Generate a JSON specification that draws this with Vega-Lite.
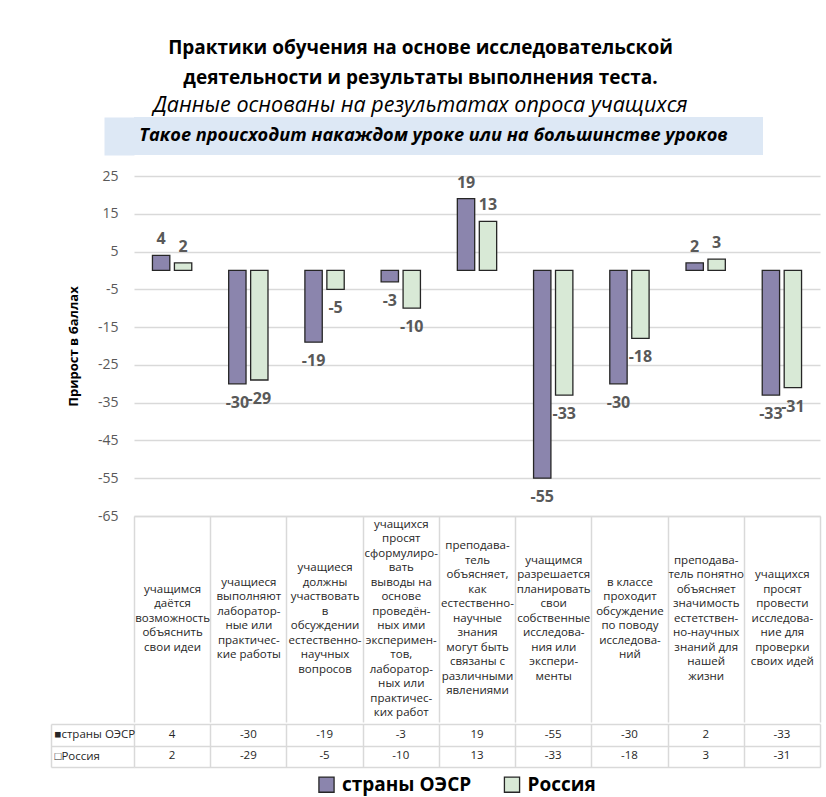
{
  "$schema": "https://vega.github.io/schema/vega-lite/v6.json",
  "background": "white",
  "padding": {"left": 50, "top": 38, "right": 5, "bottom": 2},
  "config": {"font": "Open Sans", "view": {"stroke": null}},
  "title": {
    "text": ["Практики обучения на основе исследовательской", "деятельности и результаты выполнения теста."],
    "subtitle": "Данные основаны на результатах опроса учащихся",
    "font": "Open Sans", "fontSize": 19, "fontWeight": "bold", "color": "#000000", "lineHeight": 30,
    "subtitleFont": "Open Sans", "subtitleFontSize": 21.5, "subtitleFontStyle": "italic", "subtitleColor": "#000000",
    "subtitlePadding": 7, "anchor": "middle", "offset": 1, "dx": -15
  },
  "datasets": {
    "d": [
      {"cat": "учащимся|даётся|возможность|объяснить|свои идеи", "series": "страны ОЭСР", "value": 4},
      {"cat": "учащиеся|выполняют|лаборатор-|ные или|практичес-|кие работы", "series": "страны ОЭСР", "value": -30},
      {"cat": "учащиеся|должны|участвовать|в|обсуждении|естественно-|научных|вопросов", "series": "страны ОЭСР", "value": -19},
      {"cat": "учащихся|просят|сформулиро-|вать|выводы на|основе|проведён-|ных ими|эксперимен-|тов,|лаборатор-|ных или|практичес-|ких работ", "series": "страны ОЭСР", "value": -3},
      {"cat": "преподава-|тель|объясняет,|как|естественно-|научные|знания|могут быть|связаны с|различными|явлениями", "series": "страны ОЭСР", "value": 19},
      {"cat": "учащимся|разрешается|планировать|свои|собственные|исследова-|ния или|экспери-|менты", "series": "страны ОЭСР", "value": -55},
      {"cat": "в классе|проходит|обсуждение|по поводу|исследова-|ний", "series": "страны ОЭСР", "value": -30},
      {"cat": "преподава-|тель понятно|объясняет|значимость|естетствен-|но-научных|знаний для|нашей|жизни", "series": "страны ОЭСР", "value": 2},
      {"cat": "учащихся|просят|провести|исследова-|ние для|проверки|своих идей", "series": "страны ОЭСР", "value": -33},
      {"cat": "учащимся|даётся|возможность|объяснить|свои идеи", "series": "Россия", "value": 2},
      {"cat": "учащиеся|выполняют|лаборатор-|ные или|практичес-|кие работы", "series": "Россия", "value": -29},
      {"cat": "учащиеся|должны|участвовать|в|обсуждении|естественно-|научных|вопросов", "series": "Россия", "value": -5},
      {"cat": "учащихся|просят|сформулиро-|вать|выводы на|основе|проведён-|ных ими|эксперимен-|тов,|лаборатор-|ных или|практичес-|ких работ", "series": "Россия", "value": -10},
      {"cat": "преподава-|тель|объясняет,|как|естественно-|научные|знания|могут быть|связаны с|различными|явлениями", "series": "Россия", "value": 13},
      {"cat": "учащимся|разрешается|планировать|свои|собственные|исследова-|ния или|экспери-|менты", "series": "Россия", "value": -33},
      {"cat": "в классе|проходит|обсуждение|по поводу|исследова-|ний", "series": "Россия", "value": -18},
      {"cat": "преподава-|тель понятно|объясняет|значимость|естетствен-|но-научных|знаний для|нашей|жизни", "series": "Россия", "value": 3},
      {"cat": "учащихся|просят|провести|исследова-|ние для|проверки|своих идей", "series": "Россия", "value": -31}
    ],
    "banner": [{"t": "Такое происходит накаждом уроке или на большинстве уроков", "k": "a"}]
  },
  "bounds": "full",
  "spacing": 14,
  "vconcat": [
    {
      "width": 629, "height": 38,
      "data": {"name": "banner"},
      "view": {"fill": "#dde8f5", "stroke": null},
      "mark": {"type": "text", "font": "Open Sans", "fontSize": 18.2, "fontWeight": "bold", "fontStyle": "italic", "color": "#000000", "dx": -15},
      "encoding": {
        "text": {"field": "t"},
        "y": {"field": "k", "type": "nominal", "axis": {"labels": false, "ticks": false, "title": null, "grid": false,
          "domain": true, "domainColor": "#dde8f5", "domainWidth": 30, "domainCap": "butt", "offset": 15}}
      }
    },
    {
      "spacing": 0,
      "vconcat": [
        {
          "width": 686, "height": 340,
          "data": {"name": "d"},
          "encoding": {
            "x": {"field": "cat", "type": "nominal", "sort": null,
              "scale": {"paddingInner": 0, "paddingOuter": 0},
              "axis": {"orient": "bottom", "title": null, "domain": true, "domainColor": "#d9d9d9", "domainWidth": 1.5,
                "ticks": true, "tickBand": "extent", "tickSize": 206, "tickColor": "#d9d9d9", "tickWidth": 1.5,
                "labelExpr": "split(join(split(pad('', 14 - length(split(datum.label, '|')), '~'), '~'), '\u200b|') + join(split(datum.label, '|'), '|\u200b|'), '|')",
                "labelFontSize": 11.5, "labelLineHeight": 7.25,
                "labelBaseline": "top", "labelPadding": -204, "labelColor": "#262626", "labelAngle": 0,
                "labelOverlap": false, "labelBound": false, "labelLimit": 200, "grid": false}
            },
            "xOffset": {"field": "series", "sort": ["страны ОЭСР", "Россия"], "scale": {"paddingInner": 0.21, "paddingOuter": 0.84}}
          },
          "layer": [
            {
              "mark": {"type": "bar", "stroke": "#262626", "strokeWidth": 1.3},
              "encoding": {
                "y": {"field": "value", "type": "quantitative", "scale": {"domain": [-65, 25], "nice": false, "zero": false},
                  "axis": {"values": [25, 15, 5, -5, -15, -25, -35, -45, -55, -65], "tickCount": 12, "labelExpr": "'' + datum.value",
                    "labelOverlap": false, "title": "Прирост в баллах",
                    "titleFontSize": 13, "titleFontWeight": "bold", "titleColor": "#000000", "titlePadding": 17,
                    "labelFontSize": 14, "labelColor": "#595959", "labelPadding": 16, "domain": false, "ticks": false,
                    "grid": true, "gridColor": "#d9d9d9", "gridWidth": 1.3}},
                "color": {"field": "series", "type": "nominal", "sort": ["страны ОЭСР", "Россия"],
                  "scale": {"domain": ["страны ОЭСР", "Россия"], "range": ["#8b85ad", "#d8e9d6"]},
                  "legend": {"orient": "none", "legendX": 183, "legendY": 658, "direction": "horizontal", "title": null, "symbolType": "square",
                    "symbolSize": 230, "symbolStrokeColor": "#262626", "symbolStrokeWidth": 1.3,
                    "labelFontSize": 19, "labelFontWeight": "bold", "labelColor": "#000000", "columnPadding": 29.5,
                    "labelOffset": 6}}
              }
            },
            {
              "mark": {"type": "rule", "color": "#bfbfbf", "strokeWidth": 1.8},
              "encoding": {"y": {"datum": 0}}
            },
            {
              "transform": [{"filter": "datum.value >= 0"}],
              "mark": {"type": "text", "baseline": "bottom", "dy": -8, "fontSize": 16, "fontWeight": "bold", "color": "#595959"},
              "encoding": {"y": {"field": "value", "type": "quantitative"}, "text": {"field": "value"}}
            },
            {
              "transform": [{"filter": "datum.value < 0"}],
              "mark": {"type": "text", "baseline": "top", "dy": 11, "fontSize": 16, "fontWeight": "bold", "color": "#595959"},
              "encoding": {"y": {"field": "value", "type": "quantitative"}, "text": {"field": "value"}}
            }
          ]
        },
        {
          "width": 686, "height": 43,
          "data": {"name": "d"},
          "mark": {"type": "text", "fontSize": 11.5, "color": "#262626"},
          "encoding": {
            "x": {"field": "cat", "type": "nominal", "sort": null, "scale": {"paddingInner": 0, "paddingOuter": 0},
              "axis": {"orient": "bottom", "title": null, "labels": false, "ticks": false, "domain": false,
                "grid": true, "tickBand": "extent", "gridColor": "#d9d9d9", "gridWidth": 1.5}},
            "y": {"field": "series", "type": "nominal", "sort": ["страны ОЭСР", "Россия"], "scale": {"paddingInner": 0, "paddingOuter": 0},
              "axis": {"title": null, "grid": true, "tickBand": "extent", "gridColor": "#d9d9d9", "gridWidth": 1.5,
                "offset": 83, "domain": true, "domainColor": "#d9d9d9", "domainWidth": 1.5,
                "ticks": true, "tickSize": -83, "tickColor": "#d9d9d9", "tickWidth": 1.5,
                "labelExpr": "datum.value == null ? '' : ((datum.value === 'Россия' ? '□' : '■') + datum.value)",
                "labelFontSize": {"condition": {"test": "datum.value == null", "value": 0}, "value": 11.5},
                "labelBaseline": {"condition": {"test": "datum.value == null", "value": "top"}, "value": "middle"},
                "labelAlign": "left", "labelPadding": 80, "labelColor": "#262626"}},
            "text": {"field": "value"}
          }
        }
      ]
    }
  ]
}
